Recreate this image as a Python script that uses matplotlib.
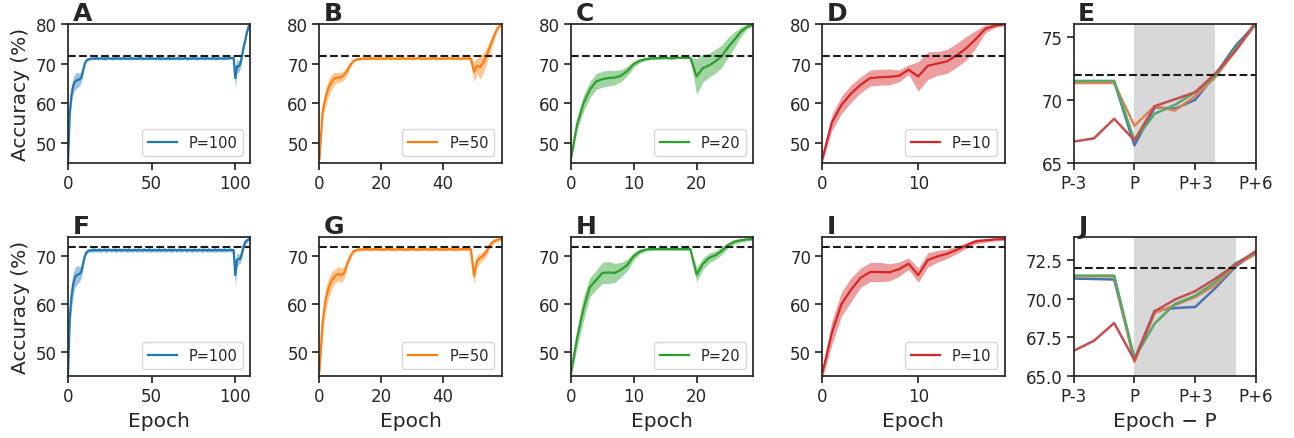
import numpy as np
import matplotlib
matplotlib.use("Agg")
import matplotlib.pyplot as plt

# ---------------- data ----------------
periods = [100, 50, 20, 10]
labels = ["P=100", "P=50", "P=20", "P=10"]
top_letters = ["A", "B", "C", "D", "E"]
bottom_letters = ["F", "G", "H", "I", "J"]
baseline_acc = 72.0

# --- train (top row) ---
a_early = [45.5, 57.5, 62.0, 64.4, 65.4, 65.8, 65.9, 66.1, 66.6, 68.3, 70.0, 70.8, 71.1]
a_plateau = [71.2, 71.3, 71.3, 71.3, 71.4, 71.3, 71.3, 71.4, 71.3, 71.3,
             71.3, 71.4, 71.3, 71.3, 71.3, 71.3, 71.4, 71.3, 71.3, 71.3,
             71.4, 71.3, 71.3, 71.3, 71.3, 71.4, 71.3, 71.3, 71.3, 71.3,
             71.4, 71.3, 71.3, 71.3, 71.3, 71.3, 71.4, 71.3, 71.3, 71.3,
             71.3, 71.4, 71.3, 71.3, 71.3, 71.3, 71.3, 71.4, 71.3, 71.3,
             71.3, 71.3, 71.4, 71.3, 71.3, 71.3, 71.3, 71.4, 71.3, 71.3,
             71.3, 71.3, 71.4, 71.3, 71.3, 71.3, 71.3, 71.4, 71.3, 71.3,
             71.4, 71.3, 71.3, 71.3, 71.4, 71.3, 71.3, 71.3, 71.4, 71.3,
             71.3, 71.4, 71.3, 71.4, 71.45, 71.45, 71.45]
a_post = [66.4, 69.4, 69.3, 70.0, 72.0, 74.3, 76.0, 78.0, 79.4, 79.9]
a_sd_early = [0.5, 1.5, 2.0, 2.0, 2.0, 2.0, 1.8, 1.5, 1.2, 0.8, 0.5, 0.3, 0.3]
a_sd_plateau = [0.3, 0.3, 0.2, 0.3, 0.4, 0.3, 0.2, 0.3, 0.3, 0.4,
                0.3, 0.2, 0.3, 0.3, 0.4, 0.3, 0.2, 0.3, 0.3, 0.3,
                0.4, 0.3, 0.2, 0.3, 0.3, 0.4, 0.3, 0.2, 0.3, 0.3,
                0.3, 0.4, 0.3, 0.2, 0.3, 0.3, 0.4, 0.3, 0.2, 0.3,
                0.3, 0.3, 0.4, 0.3, 0.2, 0.3, 0.3, 0.4, 0.3, 0.2,
                0.3, 0.3, 0.3, 0.4, 0.3, 0.2, 0.3, 0.3, 0.4, 0.3,
                0.2, 0.3, 0.3, 0.3, 0.4, 0.3, 0.2, 0.3, 0.3, 0.4,
                0.3, 0.2, 0.3, 0.3, 0.3, 0.4, 0.3, 0.2, 0.3, 0.3,
                0.4, 0.3, 0.2, 0.3, 0.3, 0.3, 0.3]
a_sd_post = [2.5, 1.8, 1.5, 1.2, 1.0, 0.8, 0.6, 0.4, 0.3, 0.2]

b_train = [46.0, 57.8, 61.6, 64.1, 65.5, 66.4, 66.5, 66.6, 67.2, 68.3,
           69.7, 70.7, 71.1, 71.2, 71.3, 71.3, 71.3, 71.4, 71.3, 71.3,
           71.3, 71.3, 71.4, 71.3, 71.3, 71.3, 71.3, 71.4, 71.3, 71.3,
           71.3, 71.3, 71.4, 71.3, 71.3, 71.3, 71.3, 71.4, 71.3, 71.3,
           71.3, 71.3, 71.4, 71.3, 71.3, 71.3, 71.3, 71.33, 71.33, 71.33,
           67.95, 69.5, 69.15, 70.3, 71.8, 73.9, 76.0, 78.0, 79.3, 79.9]
b_train_sd = [0.5, 1.5, 2.2, 2.0, 1.8, 1.5, 1.2, 1.2, 1.2, 1.0,
              0.6, 0.4, 0.3, 0.3, 0.3, 0.3, 0.3, 0.3, 0.3, 0.3,
              0.3, 0.3, 0.3, 0.3, 0.3, 0.3, 0.3, 0.3, 0.3, 0.3,
              0.3, 0.3, 0.3, 0.3, 0.3, 0.3, 0.3, 0.3, 0.3, 0.3,
              0.3, 0.3, 0.3, 0.3, 0.3, 0.3, 0.3, 0.3, 0.3, 0.3,
              2.5, 2.0, 3.0, 2.5, 2.0, 1.6, 1.2, 0.8, 0.5, 0.2]

c_train = [46.0, 54.8, 60.0, 63.4, 65.5, 66.1, 66.4, 66.5, 67.0, 68.2,
           69.9, 70.8, 71.2, 71.4, 71.4, 71.5, 71.4, 71.5, 71.5, 71.5,
           66.8, 68.9, 69.6, 70.6, 71.9, 74.1, 76.0, 78.0, 79.3, 79.8]
c_train_sd = [0.5, 1.5, 2.0, 2.0, 2.0, 2.0, 2.0, 1.8, 1.5, 1.2,
              0.8, 0.5, 0.4, 0.3, 0.3, 0.3, 0.3, 0.2, 0.2, 0.2,
              4.5, 3.5, 3.0, 3.0, 2.8, 2.5, 2.0, 1.2, 0.6, 0.3]

d_train = [46.0, 55.2, 59.6, 62.5, 64.7, 66.4, 66.6, 66.7, 66.95, 68.5,
           66.8, 69.5, 70.05, 70.6, 72.1, 73.9, 76.2, 78.8, 79.6, 79.9]
d_train_sd = [1.0, 2.0, 2.2, 2.2, 2.0, 2.0, 2.0, 2.0, 1.5, 1.2,
              3.7, 3.5, 3.0, 3.0, 3.0, 3.0, 2.2, 1.0, 0.5, 0.3]

# --- test (bottom row) ---
f_early = [45.5, 57.0, 61.5, 64.0, 65.5, 66.0, 66.2, 66.3, 66.8, 68.5, 70.0, 70.8, 71.1]
f_plateau = [71.2, 71.2, 71.3, 71.3, 71.2, 71.3, 71.3, 71.2, 71.3, 71.3,
             71.2, 71.3, 71.3, 71.2, 71.3, 71.3, 71.2, 71.3, 71.3, 71.2,
             71.3, 71.3, 71.2, 71.3, 71.3, 71.2, 71.3, 71.3, 71.2, 71.3,
             71.3, 71.2, 71.3, 71.3, 71.2, 71.3, 71.3, 71.2, 71.3, 71.3,
             71.2, 71.3, 71.3, 71.2, 71.3, 71.3, 71.2, 71.3, 71.3, 71.2,
             71.3, 71.3, 71.2, 71.3, 71.3, 71.2, 71.3, 71.3, 71.2, 71.3,
             71.3, 71.2, 71.3, 71.3, 71.2, 71.3, 71.3, 71.2, 71.3, 71.3,
             71.2, 71.3, 71.3, 71.2, 71.3, 71.3, 71.2, 71.3, 71.3, 71.2,
             71.3, 71.3, 71.2, 71.3, 71.31, 71.28, 71.25]
f_post = [66.05, 69.23, 69.4, 69.47, 70.7, 72.1, 72.98, 73.3, 73.5, 73.6]
f_sd_early = [0.5, 2.0, 2.5, 2.5, 2.0, 2.0, 1.8, 1.5, 1.2, 0.8, 0.5, 0.4, 0.3]
f_sd_plateau = [0.4, 0.3, 0.5, 0.4, 0.3, 0.4, 0.5, 0.3, 0.4, 0.4,
                0.5, 0.3, 0.4, 0.4, 0.3, 0.5, 0.4, 0.3, 0.4, 0.5,
                0.3, 0.4, 0.4, 0.5, 0.3, 0.4, 0.4, 0.3, 0.5, 0.4,
                0.3, 0.4, 0.5, 0.3, 0.4, 0.4, 0.5, 0.3, 0.4, 0.4,
                0.3, 0.5, 0.4, 0.3, 0.4, 0.5, 0.3, 0.4, 0.4, 0.5,
                0.3, 0.4, 0.4, 0.3, 0.5, 0.4, 0.3, 0.4, 0.5, 0.3,
                0.4, 0.4, 0.5, 0.3, 0.4, 0.4, 0.3, 0.5, 0.4, 0.3,
                0.4, 0.5, 0.3, 0.4, 0.4, 0.5, 0.3, 0.4, 0.4, 0.3,
                0.5, 0.4, 0.3, 0.4, 0.4, 0.4, 0.4]
f_sd_post = [2.5, 1.5, 1.0, 1.0, 0.8, 0.6, 0.5, 0.4, 0.3, 0.3]

g_test = [46.0, 56.0, 61.0, 63.5, 65.0, 65.8, 66.3, 66.0, 66.5, 68.5,
          70.0, 71.0, 71.3, 71.4, 71.4, 71.5, 71.4, 71.4, 71.5, 71.4,
          71.4, 71.4, 71.5, 71.4, 71.4, 71.4, 71.5, 71.4, 71.4, 71.4,
          71.5, 71.4, 71.4, 71.4, 71.5, 71.4, 71.4, 71.4, 71.5, 71.4,
          71.4, 71.4, 71.5, 71.4, 71.4, 71.4, 71.5, 71.46, 71.45, 71.45,
          65.9, 69.08, 69.6, 70.1, 70.9, 72.2, 72.9, 73.3, 73.5, 73.6]
g_test_sd = [0.5, 2.0, 2.2, 2.0, 1.8, 1.5, 1.5, 1.5, 1.2, 0.8,
             0.5, 0.4, 0.3, 0.3, 0.3, 0.3, 0.3, 0.3, 0.3, 0.3,
             0.3, 0.3, 0.3, 0.3, 0.3, 0.3, 0.3, 0.3, 0.3, 0.3,
             0.3, 0.3, 0.3, 0.3, 0.3, 0.3, 0.3, 0.3, 0.3, 0.3,
             0.3, 0.3, 0.3, 0.3, 0.3, 0.3, 0.3, 0.3, 0.3, 0.3,
             1.8, 1.2, 1.0, 0.9, 0.8, 0.6, 0.5, 0.4, 0.3, 0.2]

h_test = [45.5, 53.0, 59.0, 63.5, 65.0, 66.5, 66.6, 66.5, 67.2, 68.2,
          70.0, 71.0, 71.4, 71.5, 71.5, 71.5, 71.5, 71.5, 71.5, 71.5,
          66.15, 68.4, 69.66, 70.2, 71.1, 72.3, 73.0, 73.3, 73.5, 73.6]
h_test_sd = [0.8, 2.0, 2.5, 2.0, 2.0, 2.2, 2.3, 2.0, 1.5, 1.2,
             0.8, 0.5, 0.3, 0.3, 0.3, 0.3, 0.3, 0.3, 0.3, 0.3,
             1.5, 1.2, 1.0, 0.9, 0.8, 0.6, 0.5, 0.4, 0.3, 0.3]

i_test = [45.5, 54.0, 60.0, 63.0, 65.5, 66.7, 66.7, 66.63, 67.28, 68.43,
          66.04, 69.19, 69.95, 70.49, 71.31, 72.22, 73.09, 73.3, 73.5, 73.6]
i_test_sd = [1.0, 2.5, 2.5, 2.5, 2.0, 2.0, 2.0, 1.8, 1.5, 1.2,
             1.5, 1.5, 1.2, 1.0, 0.8, 0.6, 0.5, 0.4, 0.3, 0.3]

rel_ticks = [-3, 0, 3, 6]
rel_ticklabels = ["P-3", "P", "P+3", "P+6"]
top_xticks = [[0, 50, 100], [0, 20, 40], [0, 10, 20], [0, 10]]

train_means = [a_early + a_plateau + a_post, b_train, c_train, d_train]
train_sds = [a_sd_early + a_sd_plateau + a_sd_post, b_train_sd, c_train_sd, d_train_sd]
test_means = [f_early + f_plateau + f_post, g_test, h_test, i_test]
test_sds = [f_sd_early + f_sd_plateau + f_sd_post, g_test_sd, h_test_sd, i_test_sd]

# ---------------- style ----------------
plt.rcParams.update({
    "font.family": "DejaVu Sans",
    "axes.linewidth": 1.25,
    "axes.edgecolor": "#262626",
    "xtick.major.size": 5,
    "ytick.major.size": 5,
    "xtick.major.width": 1.25,
    "ytick.major.width": 1.25,
    "xtick.major.pad": 3.0,
    "ytick.major.pad": 3.0,
    "xtick.labelsize": 12,
    "ytick.labelsize": 12,
    "xtick.color": "#262626",
    "ytick.color": "#262626",
    "axes.labelcolor": "#262626",
    "text.color": "#262626",
})

tab_colors = ["#1f77b4", "#ff7f0e", "#2ca02c", "#d62728"]
deep_colors = ["#4c72b0", "#dd8452", "#55a868", "#c44e52"]

fig, axes = plt.subplots(2, 5, figsize=(12.94, 4.39), dpi=100)
fig.subplots_adjust(left=0.0526, right=0.9706, top=0.943, bottom=0.1412,
                    wspace=0.379, hspace=0.532)


def draw_row(row, means, sds, ylim, yticks, rel_ylim, rel_yticks, rel_fmt, letters, bottom, shade_end):
    for k in range(4):
        ax = axes[row, k]
        m = np.array(means[k])
        s = np.array(sds[k])
        ep = np.arange(len(m))
        ax.fill_between(ep, m - s, m + s, color=tab_colors[k], alpha=0.45, linewidth=0)
        ax.plot(ep, m, color=tab_colors[k], lw=1.6, label=labels[k])
        ax.axhline(baseline_acc, color="#1a1a1a", ls="--", lw=1.5)
        ax.set_xlim(0, len(m) - 1)
        ax.set_ylim(*ylim)
        ax.set_xticks(top_xticks[k])
        ax.set_yticks(yticks)
        leg = ax.legend(loc="lower right", fontsize=10.5, frameon=True, fancybox=True,
                        handlelength=2.0, borderpad=0.4)
        leg.get_frame().set_edgecolor("#cccccc")
        if bottom:
            ax.set_xlabel("Epoch", fontsize=14.5)
    # relative panel
    ax = axes[row, 4]
    ax.axvspan(0, shade_end, color="gray", alpha=0.3, linewidth=0)
    for k in range(4):
        m = means[k]
        P = periods[k]
        seg = m[P - 3:P + 7]
        ax.plot(np.arange(-3, 7), seg, color=deep_colors[k], lw=1.8)
    ax.axhline(baseline_acc, color="#1a1a1a", ls="--", lw=1.5)
    ax.set_xlim(-3, 6)
    ax.set_ylim(*rel_ylim)
    ax.set_xticks(rel_ticks)
    ax.set_xticklabels(rel_ticklabels)
    ax.set_yticks(rel_yticks)
    ax.set_yticklabels([rel_fmt.format(v) for v in rel_yticks])
    if bottom:
        ax.set_xlabel("Epoch \u2212 P", fontsize=14.5)
    for k in range(5):
        axes[row, k].text(0.025, 1.03, letters[k], transform=axes[row, k].transAxes,
                          fontsize=18, fontweight="bold", va="baseline", ha="left")


draw_row(0, train_means, train_sds, (45, 80), [50, 60, 70, 80], (65, 76), [65, 70, 75], "{:g}",
         top_letters, False, 4)
draw_row(1, test_means, test_sds, (45, 74), [50, 60, 70], (65, 74), [65.0, 67.5, 70.0, 72.5], "{:.1f}",
         bottom_letters, True, 5)

axes[0, 0].set_ylabel("Accuracy (%)", fontsize=14.5)
axes[1, 0].set_ylabel("Accuracy (%)", fontsize=14.5)

fig.savefig("out.png", dpi=100)
